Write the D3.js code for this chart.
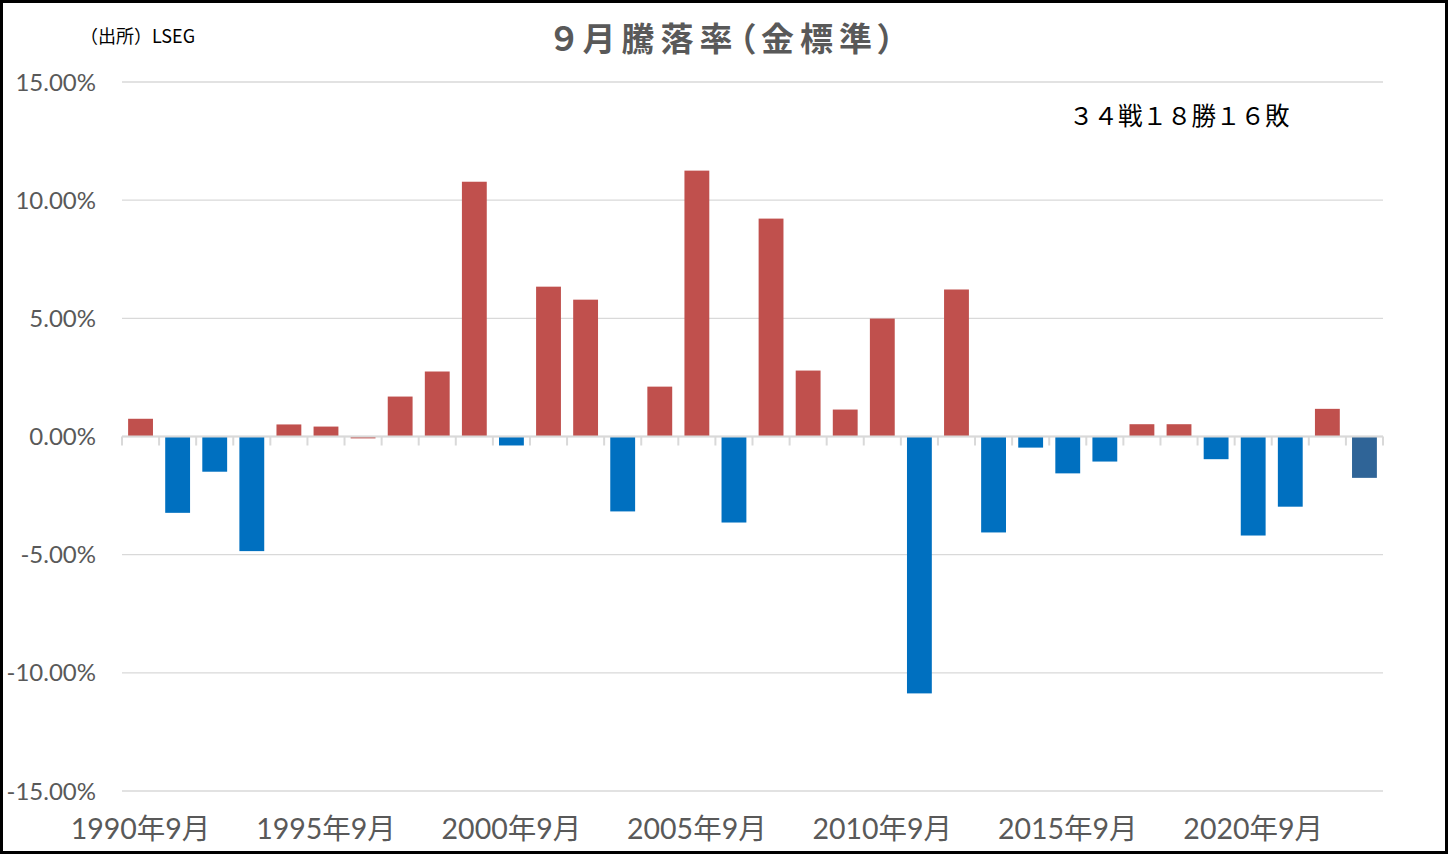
<!DOCTYPE html>
<html><head><meta charset="utf-8">
<script src="https://cdn.jsdelivr.net/npm/d3@7"></script>
<style>
html,body{margin:0;padding:0;background:#fff;}
svg{display:block;}
</style></head>
<body>
<svg id="chart" width="1448" height="854"></svg>
<script>
const years = d3.range(1990, 2024);
const values = [0.75,-3.23,-1.49,-4.85,0.51,0.42,-0.08,1.69,2.75,10.78,
  -0.38,6.34,5.79,-3.17,2.11,11.25,-3.64,9.22,2.79,1.14,
  4.99,-10.87,6.22,-4.06,-0.47,-1.56,-1.06,0.52,0.52,-0.96,
  -4.19,-2.97,1.17,-1.75];
const xTickYears = [1990,1995,2000,2005,2010,2015,2020];
const xTickLabels = ["1990年9月","1995年9月","2000年9月","2005年9月","2010年9月","2015年9月","2020年9月"];
const yTicks = [15,10,5,0,-5,-10,-15];
const titleText = "９月騰落率（金標準）";
const sourceText = "（出所）LSEG";
const noteText = "３４戦１８勝１６敗";

(function(){
const svg = d3.select("#chart");
const W = 1448, H = 854;
const pLeft = 122, pRight = 1383, pTop = 82, pBottom = 791;

const x = d3.scaleBand().domain(years).range([pLeft, pRight]).paddingInner(0.33).paddingOuter(0.165);
const y = d3.scaleLinear().domain([-15, 15]).range([pBottom, pTop]);

const fontLat = "Lato, 'Noto Sans CJK JP', sans-serif";
const fontJP = "'Noto Sans CJK JP', sans-serif";

svg.append("rect").attr("x",0).attr("y",0).attr("width",W).attr("height",H).attr("fill","#fff");

svg.append("g").selectAll("line").data(yTicks).join("line")
  .attr("x1", pLeft).attr("x2", pRight)
  .attr("y1", d => y(d)).attr("y2", d => y(d))
  .attr("stroke", "#d9d9d9").attr("stroke-width", 1.3);

svg.append("g").selectAll("text").data(yTicks).join("text")
  .attr("x", 96).attr("y", d => y(d))
  .attr("dy", "0.36em")
  .attr("text-anchor", "end")
  .attr("font-family", fontLat).attr("font-size", 24)
  .attr("fill", "#595959")
  .text(d => d.toFixed(2) + "%");

const colorFor = (v, i) => {
  if (i === years.length - 1) return "#2f6497";
  return (v >= 0 || Math.abs(v) < 0.1) ? "#c0504d" : "#0070c0";
};
svg.append("g").selectAll("rect").data(values).join("rect")
  .attr("x", (d, i) => x(years[i]))
  .attr("width", x.bandwidth())
  .attr("y", d => y(Math.max(0, d)))
  .attr("height", d => Math.abs(y(d) - y(0)))
  .attr("fill", (d, i) => colorFor(d, i));

const axisG = svg.append("g");
axisG.append("line").attr("x1", pLeft).attr("x2", pRight)
  .attr("y1", y(0)).attr("y2", y(0)).attr("stroke", "#d9d9d9").attr("stroke-width", 2);
const step = x.step();
axisG.selectAll("line.tk").data(d3.range(years.length + 1)).join("line")
  .attr("class", "tk")
  .attr("x1", i => pLeft + i * step).attr("x2", i => pLeft + i * step)
  .attr("y1", y(0)).attr("y2", y(0) + 9)
  .attr("stroke", "#d9d9d9").attr("stroke-width", 2);

svg.append("g").selectAll("text").data(xTickYears).join("text")
  .attr("x", d => x(d) + x.bandwidth() / 2)
  .attr("y", 839)
  .attr("text-anchor", "middle")
  .attr("font-family", fontLat).attr("font-size", 28.5)
  .attr("fill", "#595959")
  .text((d, i) => xTickLabels[i]);

svg.append("text").attr("x", 726).attr("y", 51)
  .attr("text-anchor", "middle")
  .attr("font-family", fontJP).attr("font-size", 33).attr("font-weight", 700)
  .attr("letter-spacing", 6)
  .style("font-feature-settings", "'palt' 1")
  .attr("fill", "#595959")
  .text(titleText);

svg.append("text").attr("x", 80).attr("y", 43)
  .attr("font-family", fontJP).attr("font-size", 18)
  .attr("fill", "#000")
  .text(sourceText);

svg.append("text").attr("x", 1069).attr("y", 125)
  .attr("font-family", fontJP).attr("font-size", 24.5)
  .attr("fill", "#000")
  .text(noteText);

svg.append("rect").attr("x", 1.5).attr("y", 1.5).attr("width", W - 3).attr("height", H - 3)
  .attr("fill", "none").attr("stroke", "#000").attr("stroke-width", 3);
})();
</script>
</body></html>
